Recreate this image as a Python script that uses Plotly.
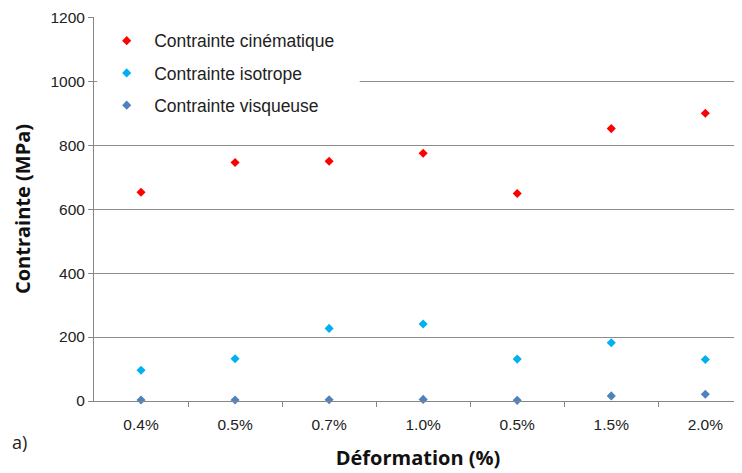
import plotly.graph_objects as go

categories = ["0.4%", "0.5%", "0.7%", "1.0%", "0.5%", "1.5%", "2.0%"]
cinematique = [653, 746, 750, 775, 649, 852, 900]
isotrope = [96, 132, 227, 241, 131, 182, 130]
visqueuse = [3, 3, 4, 5, 2, 16, 21]
y_ticks = [0, 200, 400, 600, 800, 1000, 1200]

series = [
    ("Contrainte cinématique", cinematique, "#FF0000"),
    ("Contrainte isotrope", isotrope, "#00B0F0"),
    ("Contrainte visqueuse", visqueuse, "#4F81BD"),
]

pos = list(range(len(categories)))

fig = go.Figure()
for i, (name, vals, col) in enumerate(series):
    fig.add_trace(go.Scatter(
        x=pos, y=vals, mode="markers", name=name,
        legendgroup=f"g{i}",
        marker=dict(symbol="diamond", size=7, color=col),
        cliponaxis=False,
    ))

fig.update_layout(
    width=734, height=465,
    margin=dict(l=86, r=0, t=9, b=72),
    paper_bgcolor="white", plot_bgcolor="white",
    showlegend=True,
    legend=dict(
        x=0.008, y=0.985, xanchor="left", yanchor="top",
        bgcolor="rgba(0,0,0,0)", borderwidth=0,
        font=dict(family="Liberation Sans, Arial", size=17.5, color="#222"),
        traceorder="grouped", tracegroupgap=6.5, itemwidth=45,
    ),
    shapes=[dict(type="rect", xref="paper", yref="paper",
                 x0=0.005, x1=0.41, y0=0.7, y1=0.99,
                 fillcolor="white", line=dict(width=0), layer="above")],
    annotations=[dict(text="a)", xref="paper", yref="paper",
                      x=-0.13, y=-0.107, xanchor="left", yanchor="middle",
                      showarrow=False,
                      font=dict(family="Open Sans", size=18, color="#222"))],
)

fig.update_xaxes(
    range=[-0.5, 6.39],
    tickmode="array", tickvals=pos, ticktext=categories,
    ticks="", showgrid=False, zeroline=False,
    showline=True, linecolor="#868686", linewidth=1,
    ticklabelstandoff=9, automargin=False,
    tickfont=dict(family="Liberation Sans, Arial", size=15.5, color="#222"),
    minor=dict(tickmode="array", tickvals=[p + 0.5 for p in pos],
               ticks="outside", ticklen=5, tickcolor="#868686", showgrid=False),
    title=dict(text="<b>Déformation (%)</b>", standoff=19,
               font=dict(family="Open Sans", size=20, color="#111")),
)
fig.update_yaxes(
    range=[0, 1201], tickmode="array", tickvals=y_ticks,
    ticks="outside", ticklen=5, tickcolor="#868686",
    showgrid=True, gridcolor="#8c8c8c", gridwidth=1,
    zeroline=False, showline=True, linecolor="#868686", linewidth=1,
    ticklabeloverflow="allow", automargin=False,
    tickfont=dict(family="Liberation Sans, Arial", size=15.5, color="#222"),
    title=dict(text="<b>Contrainte (MPa)</b>", standoff=14,
               font=dict(family="Open Sans", size=20, color="#111")),
)

fig.write_html("out.html")
